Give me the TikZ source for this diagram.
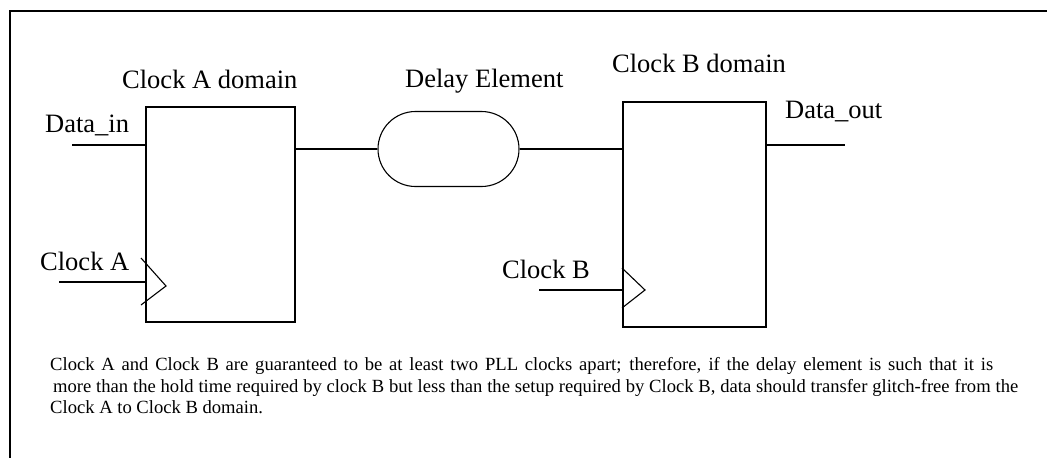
\documentclass[tikz,border=0pt]{standalone}
\usepackage{fontspec}
\setmainfont{Liberation Serif}
\usetikzlibrary{shapes.misc,calc}
\tikzset{
  blockbox/.style={draw, line width=2pt, inner sep=0pt},
  wire/.style={line width=2pt},
  thinline/.style={line width=1.1pt},
  lbl/.style={anchor=base west, inner sep=0pt, font=\fontsize{26.5}{30}\selectfont},
  note/.style={anchor=base west, inner sep=0pt, font=\fontsize{18.6}{21.5}\selectfont},
}
\begin{document}
\begin{tikzpicture}[x=1pt,y=-1pt]
\useasboundingbox (0,0) rectangle (1047,458);
% frame (top and left edges)
\draw[wire] (1047,11) -- (10,11) -- (10,458);
% blocks
\node[blockbox, minimum width=149pt, minimum height=215pt] (boxA) at (220.5,214.5) {};
\node[blockbox, minimum width=143pt, minimum height=225pt] (boxB) at (694.5,214.5) {};
\node[draw, thinline, rounded rectangle, minimum width=141pt, minimum height=75pt, inner sep=0pt] (dly) at (448.5,149) {};
% labels
\node[lbl] (tA) at (122,88) {Clock A domain};
\node[lbl] (tD) at (405,87) {Delay Element};
\node[lbl] (tB) at (612,72) {Clock B domain};
\node[lbl] (tin) at (45,132) {Data\_in};
\node[lbl] (tout) at (785,118) {Data\_out};
\node[lbl] (tcA) at (40,270) {Clock A};
\node[lbl] (tcB) at (502,278) {Clock B};
% wires
\coordinate (din) at (72,145);
\coordinate (dout) at (845,145);
\coordinate (ckA) at (59,282);
\coordinate (ckB) at (539,290);
\draw[wire] (din) -- (boxA.west |- din);
\draw[wire] (boxA.east |- dly.west) -- (dly.west);
\draw[wire] (dly.east) -- (boxB.west |- dly.east);
\draw[wire] (boxB.east |- dout) -- (dout);
\draw[wire] (ckA) -- (boxA.west |- ckA);
\draw[wire] (ckB) -- (boxB.west |- ckB);
% clock triangles
\draw[thinline] ($(boxA.west |- ckA)+(-4,-24)$) -- ($(boxA.west |- ckA)+(21,4)$) -- ($(boxA.west |- ckA)+(-4,23)$);
\draw[thinline] ($(boxB.west |- ckB)+(0,-22)$) -- ($(boxB.west |- ckB)+(23,0)$) -- ($(boxB.west |- ckB)+(0,18)$);
% note
\node[note] (n1) at (50,370) {\makebox[943pt][s]{Clock A and Clock B are guaranteed to be at least two PLL clocks apart; therefore, if the delay element is such that it is}};
\node[note] (n2) at (53,392) {\makebox[965pt][s]{more than the hold time required by clock B but less than the setup required by Clock B, data should transfer glitch-free from the}};
\node[note] (n3) at (50,413) {Clock A to Clock B domain.};
\end{tikzpicture}
\end{document}
